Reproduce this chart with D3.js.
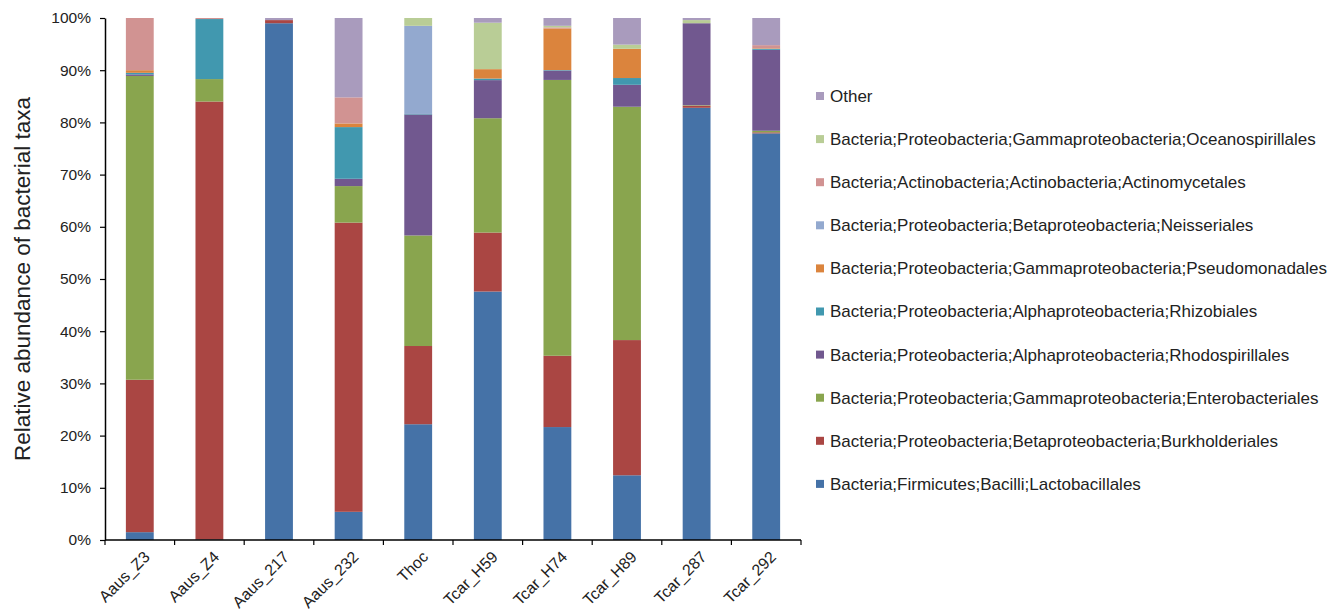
<!DOCTYPE html>
<html>
<head>
<meta charset="utf-8">
<script src="https://cdn.jsdelivr.net/npm/d3@7"></script>
<style>
body { margin: 0; background: #fff; }
text { font-family: "Liberation Sans", Arial, sans-serif; }
</style>
</head>
<body>
<div id="chart"></div>
<script>
let samples = ["Aaus_Z3", "Aaus_Z4", "Aaus_217", "Aaus_232", "Thoc", "Tcar_H59", "Tcar_H74", "Tcar_H89", "Tcar_287", "Tcar_292"]

let taxa = [
    "Bacteria;Firmicutes;Bacilli;Lactobacillales",
    "Bacteria;Proteobacteria;Betaproteobacteria;Burkholderiales",
    "Bacteria;Proteobacteria;Gammaproteobacteria;Enterobacteriales",
    "Bacteria;Proteobacteria;Alphaproteobacteria;Rhodospirillales",
    "Bacteria;Proteobacteria;Alphaproteobacteria;Rhizobiales",
    "Bacteria;Proteobacteria;Gammaproteobacteria;Pseudomonadales",
    "Bacteria;Proteobacteria;Betaproteobacteria;Neisseriales",
    "Bacteria;Actinobacteria;Actinobacteria;Actinomycetales",
    "Bacteria;Proteobacteria;Gammaproteobacteria;Oceanospirillales",
    "Other"
]

let colors = ["#4572A7", "#AA4643", "#89A54E", "#71588F", "#4198AF", "#DB843D", "#93A9CF", "#D19392", "#B9CD96", "#A99BBD"]

// percent per sample, one array per taxon (same order as samples)
let lactobacillales   = [1.5, 0.1, 99.0, 5.4, 22.2, 47.6, 21.7, 12.4, 82.8, 77.9]
let burkholderiales   = [29.2, 83.9, 0.6, 55.4, 15.0, 11.3, 13.7, 25.9, 0.4, 0.2]
let enterobacteriales = [58.2, 4.3, 0.0, 7.0, 21.2, 21.9, 53.0, 44.7, 0.1, 0.3]
let rhodospirillales  = [0.3, 0.0, 0.0, 1.4, 23.2, 7.3, 1.8, 4.2, 15.7, 15.5]
let rhizobiales       = [0.3, 11.5, 0.0, 9.9, 0.1, 0.3, 0.1, 1.3, 0.0, 0.2]
let pseudomonadales   = [0.5, 0.0, 0.0, 0.7, 0.0, 1.8, 8.0, 5.6, 0.0, 0.1]
let neisseriales      = [0.0, 0.0, 0.0, 0.0, 16.9, 0.0, 0.0, 0.0, 0.0, 0.0]
let actinomycetales   = [10.0, 0.2, 0.0, 5.0, 0.0, 0.0, 0.2, 0.0, 0.0, 0.6]
let oceanospirillales = [0.0, 0.0, 0.0, 0.0, 1.5, 8.9, 0.3, 0.8, 0.6, 0.0]
let other             = [0.0, 0.0, 0.4, 15.2, 0.0, 0.9, 1.5, 5.1, 0.4, 5.2]

let series = [lactobacillales, burkholderiales, enterobacteriales, rhodospirillales, rhizobiales,
              pseudomonadales, neisseriales, actinomycetales, oceanospirillales, other]

let yTicks = [0, 0.1, 0.2, 0.3, 0.4, 0.5, 0.6, 0.7, 0.8, 0.9, 1.0]

let width = 1342, height = 614
let mLeft = 105, mRight = 801, mTop = 18, mBottom = 540

let svg = d3.select("div#chart").append("svg")
    .attr("width", width)
    .attr("height", height)

// build rows for d3.stack
let rows = samples.map((s, i) => {
    let r = {sample: s}
    taxa.forEach((t, j) => { r[t] = series[j][i] })
    return r
})

let stack = d3.stack().keys(taxa).offset(d3.stackOffsetExpand)
let layers = stack(rows)

let x = d3.scaleBand().domain(samples).range([mLeft, mRight]).paddingInner(0.6).paddingOuter(0.3)
let y = d3.scaleLinear().domain([0, 1]).range([mBottom, mTop])
let color = d3.scaleOrdinal().domain(taxa).range(colors)

svg.append("g").selectAll("g")
    .data(layers)
    .join("g")
    .attr("fill", d => color(d.key))
    .selectAll("rect")
    .data(d => d)
    .join("rect")
    .attr("x", d => x(d.data.sample))
    .attr("width", x.bandwidth())
    .attr("y", d => y(d[1]))
    .attr("height", d => y(d[0]) - y(d[1]))

// y axis
let yAxis = svg.append("g")
    .attr("transform", "translate(" + mLeft + ",0)")
    .call(d3.axisLeft(y).tickValues(yTicks).tickFormat(d3.format(".0%")).tickSize(5).tickSizeOuter(0))
yAxis.select(".domain").attr("stroke", "#000").attr("stroke-width", 1.5)
yAxis.selectAll(".tick line").attr("stroke", "#000").attr("stroke-width", 1.2)
yAxis.selectAll("text").style("font-size", "15.5px").attr("fill", "#222").attr("x", -14)

// x axis, ticks between the bars
let step = x.step()
let xAxis = svg.append("g").attr("transform", "translate(0," + mBottom + ")")
xAxis.append("line").attr("x1", mLeft).attr("x2", mRight).attr("stroke", "#000").attr("stroke-width", 1.5)
xAxis.selectAll("line.tk")
    .data(d3.range(samples.length + 1))
    .join("line")
    .attr("class", "tk")
    .attr("x1", i => mLeft + i * step)
    .attr("x2", i => mLeft + i * step)
    .attr("y1", 0).attr("y2", 5)
    .attr("stroke", "#000").attr("stroke-width", 1.2)
xAxis.selectAll("text")
    .data(samples)
    .join("text")
    .attr("transform", d => "translate(" + (x(d) + x.bandwidth() / 2 + 3) + ",10) rotate(-45)")
    .attr("text-anchor", "end")
    .attr("dy", "0.7em")
    .style("font-size", "16px")
    .attr("fill", "#222")
    .text(d => d)

// y title
svg.append("text")
    .attr("transform", "translate(30," + ((mTop + mBottom) / 2) + ") rotate(-90)")
    .attr("text-anchor", "middle")
    .style("font-size", "22.5px")
    .attr("fill", "#222")
    .text("Relative abundance of bacterial taxa")

// legend, Other on top
let legend = svg.append("g").selectAll("g")
    .data(taxa.slice().reverse())
    .join("g")
    .attr("transform", (d, i) => "translate(816," + (96 + i * 43.1) + ")")
legend.append("rect")
    .attr("x", 0).attr("y", -4).attr("width", 8).attr("height", 8)
    .attr("fill", d => color(d))
legend.append("text")
    .attr("x", 14).attr("dy", "0.35em")
    .style("font-size", "17px")
    .attr("fill", "#222")
    .text(d => d)
</script>
</body>
</html>
